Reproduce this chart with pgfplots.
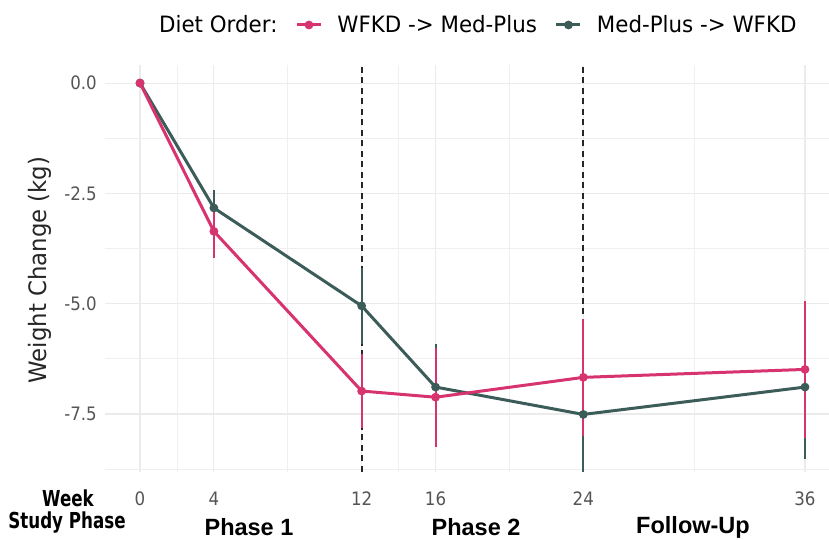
\documentclass[border=0pt]{standalone}
\usepackage{fontspec}
\setmainfont{DejaVu Sans}[FakeStretch=0.9]
\newfontfamily\legfont{DejaVu Sans}[FakeStretch=0.95]
\newfontfamily\arialfont{Liberation Sans}
\newfontfamily\condfont{DejaVu Sans}[FakeStretch=0.76]
\usepackage{pgfplots}
\pgfplotsset{compat=1.18}
\definecolor{pinkc}{HTML}{D6336F}
\definecolor{greenc}{HTML}{3C5C59}
\definecolor{gridc}{HTML}{EBEBEB}
\definecolor{tickc}{HTML}{555555}
\begin{document}
\begin{tikzpicture}
\path[use as bounding box] (0bp,0bp) rectangle (829bp,540bp);
\begin{axis}[
  at={(105bp,68bp)}, anchor=south west,
  scale only axis, width=724bp, height=407bp,
  xmin=-1.895, xmax=37.3, ymin=-8.815, ymax=0.41,
  axis line style={draw=none}, major tick length=0pt, minor tick length=0pt,
  xtick={0,4,12,16,24,36}, minor xtick={2,8,14,20,30},
  ytick={0,-2.5,-5,-7.5}, minor ytick={-1.25,-3.75,-6.25,-8.75},
  yticklabels={0.0,-2.5,-5.0,-7.5},
  grid=both,
  major grid style={gridc, line width=1.1bp},
  minor grid style={gridc!80, line width=0.8bp},
  /pgf/number format/assume math mode=true,
  xticklabel style={anchor=center, yshift=-27bp, inner sep=0pt, font=\fontsize{18.5bp}{20bp}\selectfont, text=tickc},
  yticklabel style={anchor=east, xshift=-8bp, inner sep=0pt, font=\fontsize{18.5bp}{20bp}\selectfont, text=tickc},
  legend columns=3,
  legend style={at={(axis description cs:0.0497,1.0983)}, anchor=west, draw=none, fill=none,
    font=\legfont\fontsize{22.5bp}{24bp}\selectfont, nodes={inner sep=0pt},
    /tikz/every odd column/.append style={column sep=15bp},
    /tikz/every even column/.append style={column sep=18bp}},
  legend cell align=left,
  legend image code/.code={\draw[#1] (0bp,0bp) -- (24bp,0bp); \path[#1] plot coordinates {(12bp,0bp)};},
  clip=false,
]
\addlegendimage{empty legend}
\addlegendentry{Diet Order:}
\addplot[black!85, dash pattern=on 6bp off 4.5bp, line width=1.7bp, forget plot] coordinates {(12,-8.815) (12,0.41)};
\addplot[black!85, dash pattern=on 6bp off 4.5bp, line width=1.7bp, forget plot] coordinates {(24,-8.815) (24,0.41)};
\addplot[greenc, line width=3bp, mark=*, mark size=2.8bp, forget plot,
  error bars/.cd, y dir=both, y explicit, error mark=none,
  error bar style={line width=2bp, greenc}]
  coordinates {(0,0) +- (0,0) (4,-2.83) +- (0,0.4) (12,-5.05) +- (0,0.87) (16,-6.89) +- (0,0.97) (24,-7.51) +- (0,1.3) (36,-6.89) +- (0,1.62)};
\addplot[pinkc, line width=3bp, mark=*, mark size=2.8bp,
  error bars/.cd, y dir=both, y explicit, error mark=none,
  error bar style={line width=2bp, pinkc}]
  coordinates {(0,0) +- (0,0) (4,-3.36) +- (0,0.6) (12,-6.98) +- (0,0.83) (16,-7.12) +- (0,1.12) (24,-6.67) +- (0,1.33) (36,-6.49) +- (0,1.56)};
\addlegendentry{WFKD -> Med-Plus}
\addlegendimage{greenc, line width=3bp, mark=*, mark size=2.8bp}
\addlegendentry{Med-Plus -> WFKD}
\end{axis}
\node[rotate=90, font=\legfont\fontsize{24bp}{26bp}\selectfont, text=black!85] at (40bp,270bp) {Weight Change (kg)};
\node[font=\condfont\bfseries\fontsize{22bp}{23bp}\selectfont] at (68bp,41.5bp) {Week};
\node[font=\condfont\bfseries\fontsize{22bp}{23bp}\selectfont] at (67bp,17bp) {Study Phase};
\node[font=\arialfont\bfseries\fontsize{23.5bp}{25bp}\selectfont] at (249bp,13bp) {Phase 1};
\node[font=\arialfont\bfseries\fontsize{23.5bp}{25bp}\selectfont] at (476bp,13bp) {Phase 2};
\node[font=\arialfont\bfseries\fontsize{23.5bp}{25bp}\selectfont] at (693bp,13bp) {Follow-Up};
\end{tikzpicture}
\end{document}
